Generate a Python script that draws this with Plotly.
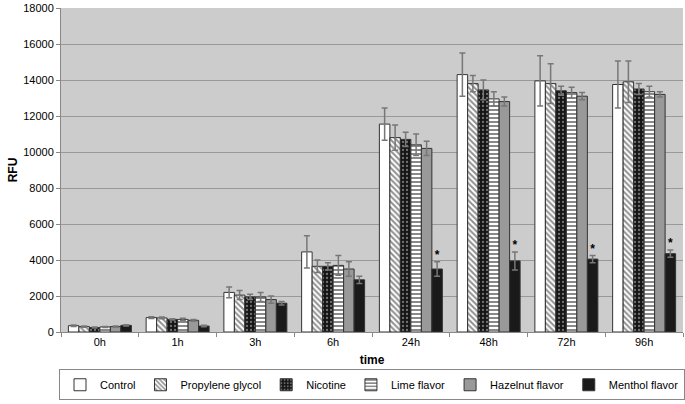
import plotly.graph_objects as go

times = ["0h", "1h", "3h", "6h", "24h", "48h", "72h", "96h"]
series_names = ["Control", "Propylene glycol", "Nicotine", "Lime flavor", "Hazelnut flavor", "Menthol flavor"]

control = [350, 800, 2200, 4450, 11550, 14300, 13950, 13750]
propylene = [300, 780, 2050, 3650, 10800, 13800, 13800, 13900]
nicotine = [250, 700, 1950, 3650, 10700, 13450, 13400, 13500]
lime = [280, 700, 1950, 3700, 10400, 12950, 13300, 13350]
hazelnut = [300, 650, 1800, 3500, 10200, 12800, 13100, 13200]
menthol = [370, 330, 1600, 2900, 3500, 3950, 4050, 4350]

control_err = [40, 50, 300, 900, 900, 1200, 1400, 1300]
propylene_err = [30, 50, 250, 350, 700, 450, 1100, 1150]
nicotine_err = [30, 40, 150, 200, 400, 550, 250, 300]
lime_err = [30, 60, 250, 550, 600, 400, 300, 300]
hazelnut_err = [30, 50, 200, 400, 400, 250, 200, 150]
menthol_err = [30, 40, 100, 200, 400, 500, 200, 200]

significant = ["", "", "", "", "*", "*", "*", "*"]

values = [control, propylene, nicotine, lime, hazelnut, menthol]
errors = [control_err, propylene_err, nicotine_err, lime_err, hazelnut_err, menthol_err]

styles = [
    dict(color="#ffffff", pattern=dict(shape="")),
    dict(color="#ffffff", pattern=dict(shape="\\", fgcolor="#222222", bgcolor="#ffffff", size=4, solidity=0.5)),
    dict(color="#151515", pattern=dict(shape=".", fgcolor="#cfcfcf", bgcolor="#151515", size=4, solidity=0.25)),
    dict(color="#ffffff", pattern=dict(shape="-", fgcolor="#151515", bgcolor="#ffffff", size=4, solidity=0.5)),
    dict(color="#999999", pattern=dict(shape="")),
    dict(color="#1a1a1a", pattern=dict(shape="")),
]

fig = go.Figure()
for i, (name, v, e, st) in enumerate(zip(series_names, values, errors, styles)):
    fig.add_trace(go.Bar(
        x=times, y=v, name=name, offsetgroup=str(i),
        marker=dict(color=st["color"], pattern=st["pattern"],
                    line=dict(color="#333333", width=1)),
        error_y=dict(type="data", array=e, visible=True, color="#777777", thickness=1.5, width=3),
    ))

# significance markers above the menthol bars
star_y = [m + er for m, er in zip(menthol, menthol_err)]
fig.add_trace(go.Scatter(
    x=times, y=star_y, mode="text", text=["<b>%s</b>" % s if s else "" for s in significant],
    textposition="top center", offsetgroup="5",
    textfont=dict(family="Liberation Sans, Arial", size=12, color="#000000"),
    showlegend=False, hoverinfo="skip",
))

fig.update_layout(
    width=685, height=404,
    margin=dict(l=61, r=2, t=6, b=72),
    paper_bgcolor="#ffffff", plot_bgcolor="#cccccc",
    barmode="group", scattermode="group", bargap=0.19, bargroupgap=0,
    font=dict(family="Liberation Sans, Arial", size=11, color="#000000"),
    xaxis=dict(
        title=dict(text="<b>time</b>", font=dict(size=12), standoff=8),
        tickson="boundaries", ticks="outside", ticklen=4, tickcolor="#888888",
        showline=True, linecolor="#888888", linewidth=1,
        showgrid=False,
    ),
    yaxis=dict(
        title=dict(text="<b>RFU</b>", font=dict(size=12), standoff=3),
        range=[0, 18000], dtick=2000, tickformat="d", ticklabeloverflow="allow",
        showgrid=True, gridcolor="#999999", gridwidth=1,
        ticks="outside", ticklen=4, tickcolor="#888888",
        showline=True, linecolor="#888888", linewidth=1,
        zeroline=False,
    ),
    legend=dict(
        orientation="h", x=0.5, xanchor="center", y=-0.115, yanchor="top",
        bordercolor="#888888", borderwidth=1, bgcolor="#ffffff",
        font=dict(size=11), itemwidth=30, tracegroupgap=0,
    ),
)

fig.write_html("out.html", config={"displayModeBar": False},
               post_script="document.body.style.margin='0px';")
